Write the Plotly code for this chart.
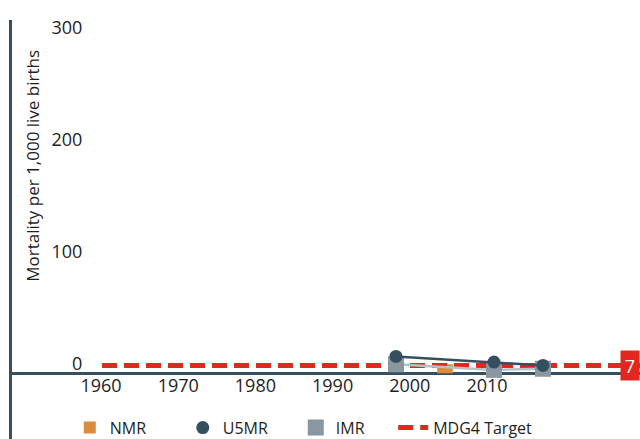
import plotly.graph_objects as go

# ---- data ----
years_u5mr = [1990, 2000, 2005]
u5mr = [15, 10, 7]
years_imr = [1990, 2000, 2005]
imr = [8, 3, 4]
years_nmr = [1995]
nmr = [8]
target_years = [1960, 2015]
target_value = 7
x_tick_labels = [1960, 1970, 1980, 1990, 2000, 2010]
y_ticks = [0, 100, 200, 300]

DARK = "#364f60"
GRAY = "#8a96a0"
LGRAY = "#b9c1c7"
ORANGE = "#d98d3c"
RED = "#e3261e"
FONT = "Open Sans"
TXT = "#1e1e1e"

fig = go.Figure()

fig.add_trace(go.Bar(
    x=years_nmr, y=nmr, name="NMR", marker=dict(color=ORANGE, line=dict(width=0)),
    width=1.6, legendrank=1,
))
fig.add_trace(go.Scatter(
    x=[target_years[0], target_years[1]], y=[target_value, target_value],
    mode="lines", name="MDG4 Target", legend="legend2",
    line=dict(color=RED, width=5, dash="15px,7px"),
))
fig.add_trace(go.Scatter(
    x=years_imr, y=imr, mode="lines", showlegend=False, hoverinfo="skip",
    line=dict(color=LGRAY, width=2.5),
))
fig.add_trace(go.Scatter(
    x=years_imr, y=imr, mode="markers", name="IMR", legendrank=3,
    marker=dict(symbol="square", size=16, color=GRAY),
))
fig.add_trace(go.Scatter(
    x=years_u5mr, y=u5mr, mode="lines", showlegend=False, hoverinfo="skip",
    line=dict(color=DARK, width=2.5),
))
fig.add_trace(go.Scatter(
    x=years_u5mr, y=u5mr, mode="markers", name="U5MR", legendrank=2,
    marker=dict(symbol="circle", size=13, color=DARK),
))
# helper traces to attach the label axes
fig.add_trace(go.Scatter(x=[x_tick_labels[0]], y=[None], xaxis="x2", yaxis="y",
                         showlegend=False, hoverinfo="skip", mode="markers"))
fig.add_trace(go.Scatter(x=[None], y=[y_ticks[0]], xaxis="x", yaxis="y2",
                         showlegend=False, hoverinfo="skip", mode="markers"))

yrange = [-58.7, 315.4]
fig.update_layout(
    width=640, height=439,
    margin=dict(l=12, r=0, t=20, b=0, autoexpand=False),
    paper_bgcolor="white", plot_bgcolor="white",
    font=dict(family=FONT, size=16, color=TXT),
    showlegend=True,
    legend=dict(
        orientation="h", x=0.092, xanchor="left", y=0.027, yanchor="middle",
        traceorder="normal", font=dict(size=16, color=TXT),
        entrywidth=68, entrywidthmode="pixels", bgcolor="rgba(0,0,0,0)",
    ),
    legend2=dict(
        orientation="h", x=0.607, xanchor="left", y=0.027, yanchor="middle",
        font=dict(size=16, color=TXT), bgcolor="rgba(0,0,0,0)",
    ),
    xaxis=dict(
        range=[1950.82, 2014.9], showticklabels=False, showgrid=False,
        zeroline=False, showline=False, ticks="", automargin=False,
    ),
    xaxis2=dict(
        overlaying="x", anchor="free", position=0.157, side="bottom",
        range=[1948.47, 2029.82], tickvals=x_tick_labels,
        ticktext=[str(v) for v in x_tick_labels],
        showgrid=False, zeroline=False, showline=False, ticks="",
        tickfont=dict(size=18, color=TXT), automargin=False,
    ),
    yaxis=dict(
        range=yrange, showticklabels=False, showgrid=False,
        zeroline=True, zerolinecolor=DARK, zerolinewidth=3,
        showline=True, linecolor=DARK, linewidth=3, ticks="", automargin=False,
    ),
    yaxis2=dict(
        overlaying="y", anchor="free", position=0.112, side="left",
        range=yrange, tickvals=y_ticks, ticktext=[str(v) for v in y_ticks],
        ticklabelposition="outside top", ticklabelshift=3,
        showgrid=False, zeroline=False, showline=False, ticks="",
        tickfont=dict(size=18, color=TXT), automargin=False,
    ),
    annotations=[
        dict(text="Mortality per 1,000 live births", textangle=-90,
             xref="paper", yref="paper", x=0.0334, y=0.652,
             xanchor="center", yanchor="middle",
             showarrow=False, font=dict(size=17, color=TXT)),
        dict(text=str(target_value), xref="paper", yref="y", x=1.0, y=target_value,
             xanchor="right", yanchor="middle", showarrow=False,
             bgcolor=RED, width=16, height=27,
             font=dict(size=18, color="white")),
    ],
)

fig.write_html("out.html", config={"displayModeBar": False},
               post_script=["document.body.style.margin='0';"])
